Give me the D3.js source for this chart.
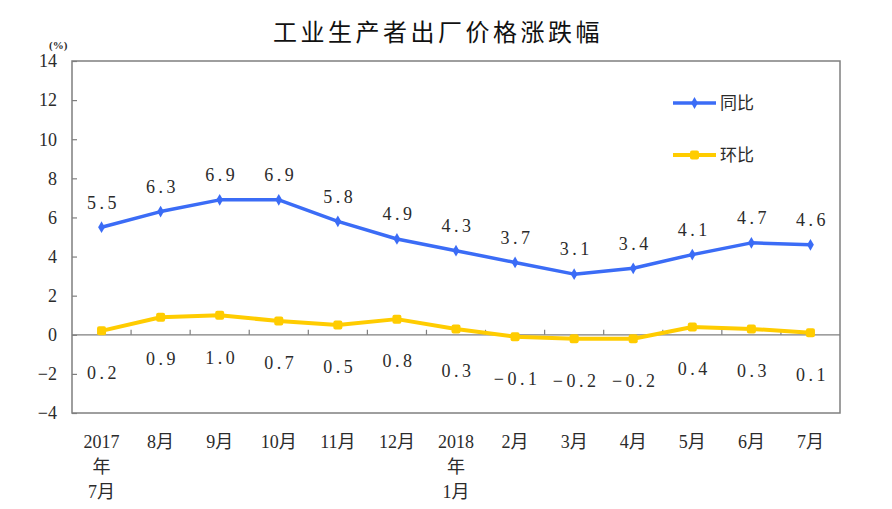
<!DOCTYPE html>
<html><head><meta charset="utf-8">
<script src="https://cdn.jsdelivr.net/npm/d3@7"></script>
<style>
html,body{margin:0;padding:0;background:#fff;}
svg{display:block;}
</style>
</head><body>
<svg id="chart" width="892" height="509"></svg>
<script>
const categories = [["2017","年","7月"],["8月"],["9月"],["10月"],["11月"],["12月"],["2018","年","1月"],["2月"],["3月"],["4月"],["5月"],["6月"],["7月"]];
const yoy = [5.5, 6.3, 6.9, 6.9, 5.8, 4.9, 4.3, 3.7, 3.1, 3.4, 4.1, 4.7, 4.6];
const mom = [0.2, 0.9, 1.0, 0.7, 0.5, 0.8, 0.3, -0.1, -0.2, -0.2, 0.4, 0.3, 0.1];
const yTicks = [-4, -2, 0, 2, 4, 6, 8, 10, 12, 14];
const seriesNames = ["同比", "环比"];
const title = "工业生产者出厂价格涨跌幅";

const svg = d3.select("#chart");
const L = 72, T = 61, R = 840, B = 413;
const numFont = "'Liberation Serif','Noto Sans CJK SC',serif";
const cjkFont = "'Noto Sans CJK SC','Liberation Serif',sans-serif";
const blue = "#3b6cf6", yellow = "#ffcc00", axisCol = "#7f7f7f", textCol = "#2b2b2b";

const x = d3.scaleBand().domain(d3.range(categories.length)).range([L, R]).padding(0);
const y = d3.scaleLinear().domain([-4, 14]).range([B, T]);
const cx = i => x(i) + x.bandwidth() / 2;

// title
svg.append("text").attr("x", 438).attr("y", 41).attr("text-anchor", "middle")
  .attr("font-family", cjkFont).attr("font-size", 24).attr("letter-spacing", 3.5)
  .attr("fill", "#111").text(title);

// unit
svg.append("text").attr("x", 49).attr("y", 49).attr("font-family", numFont)
  .attr("font-size", 11).attr("font-weight", "bold").attr("fill", textCol).text("(%)");

// y axis
const yAxis = d3.axisRight(y).tickValues(yTicks).tickSize(5).tickFormat("");
const gy = svg.append("g").attr("transform", `translate(${L},0)`).call(yAxis);
gy.select(".domain").remove();
gy.selectAll(".tick line").attr("stroke", axisCol).attr("stroke-width", 1.2);
svg.append("g").selectAll("text").data(yTicks).join("text")
  .attr("x", 57).attr("y", d => y(d)).attr("dy", "0.35em").attr("text-anchor", "end")
  .attr("font-family", numFont).attr("font-size", 18).attr("fill", textCol)
  .text(d => d < 0 ? "−" + Math.abs(d) : d);

// plot frame
svg.append("rect").attr("x", L).attr("y", T).attr("width", R - L).attr("height", B - T)
  .attr("fill", "none").attr("stroke", axisCol).attr("stroke-width", 1.5);

// zero line with ticks
svg.append("line").attr("x1", L).attr("x2", R).attr("y1", y(0)).attr("y2", y(0))
  .attr("stroke", axisCol).attr("stroke-width", 1.2);
svg.append("g").selectAll("line").data(d3.range(1, categories.length)).join("line")
  .attr("x1", i => x(i)).attr("x2", i => x(i)).attr("y1", y(0)).attr("y2", y(0) - 5)
  .attr("stroke", axisCol).attr("stroke-width", 1.2);

// x labels
const xl = svg.append("g").selectAll("text").data(categories).join("text")
  .attr("x", (d, i) => cx(i)).attr("y", 448).attr("text-anchor", "middle")
  .attr("font-family", numFont).attr("font-size", 18).attr("fill", textCol);
xl.selectAll("tspan").data(d => d).join("tspan")
  .attr("x", function () { return d3.select(this.parentNode).attr("x"); })
  .attr("dy", (d, j) => j === 0 ? 0 : 25).text(d => d);

// lines
const line = d3.line().x((d, i) => cx(i)).y(d => y(d));
svg.append("path").datum(mom).attr("d", line).attr("fill", "none")
  .attr("stroke", yellow).attr("stroke-width", 4).attr("stroke-linejoin", "round");
svg.append("path").datum(yoy).attr("d", line).attr("fill", "none")
  .attr("stroke", blue).attr("stroke-width", 3.5).attr("stroke-linejoin", "round");

// markers
svg.append("g").selectAll("rect").data(mom).join("rect")
  .attr("x", (d, i) => cx(i) - 4.5).attr("y", d => y(d) - 4.5).attr("width", 9).attr("height", 9)
  .attr("rx", 2).attr("fill", yellow);
svg.append("g").selectAll("path").data(yoy).join("path")
  .attr("transform", (d, i) => `translate(${cx(i)},${y(d)})`)
  .attr("d", d3.symbol(d3.symbolDiamond, 40)).attr("fill", blue);

// data labels
svg.append("g").selectAll("text").data(yoy).join("text")
  .attr("x", (d, i) => cx(i) + 2).attr("y", d => y(d) - 25).attr("dy", "0.35em")
  .attr("text-anchor", "middle").attr("font-family", numFont).attr("font-size", 18)
  .attr("letter-spacing", 3.5).attr("fill", textCol).text(d => d.toFixed(1));
svg.append("g").selectAll("text").data(mom).join("text")
  .attr("x", (d, i) => cx(i) + 2).attr("y", d => y(d) + 42).attr("dy", "0.35em")
  .attr("text-anchor", "middle").attr("font-family", numFont).attr("font-size", 18)
  .attr("letter-spacing", 3.5).attr("fill", textCol).text(d => d < 0 ? "−" + Math.abs(d).toFixed(1) : d.toFixed(1));

// legend
const legend = svg.append("g");
[[blue, 103, "diamond"], [yellow, 155, "square"]].forEach((c, k) => {
  legend.append("line").attr("x1", 673).attr("x2", 716).attr("y1", c[1]).attr("y2", c[1])
    .attr("stroke", c[0]).attr("stroke-width", k === 0 ? 3.5 : 4);
  if (c[2] === "diamond") {
    legend.append("path").attr("transform", `translate(694.5,${c[1]})`)
      .attr("d", d3.symbol(d3.symbolDiamond, 40)).attr("fill", c[0]);
  } else {
    legend.append("rect").attr("x", 690).attr("y", c[1] - 4.5).attr("width", 9).attr("height", 9)
      .attr("rx", 2).attr("fill", c[0]);
  }
  legend.append("text").attr("x", 720).attr("y", c[1]).attr("dy", "0.36em")
    .attr("font-family", cjkFont).attr("font-size", 17).attr("fill", textCol).text(seriesNames[k]);
});
</script>
</body></html>
